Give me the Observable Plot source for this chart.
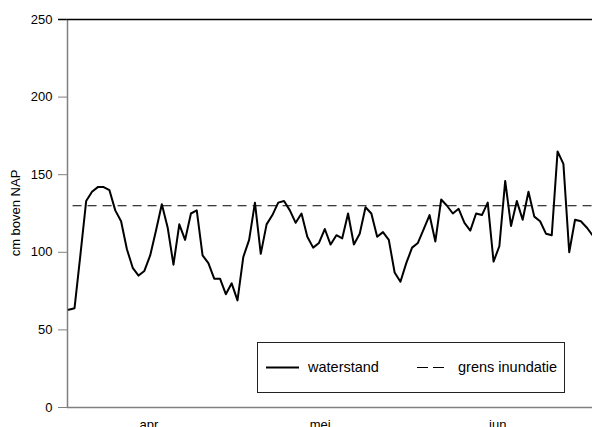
<!DOCTYPE html>
<html><head><meta charset="utf-8">
<script src="https://cdn.jsdelivr.net/npm/d3@7"></script>
<script src="https://cdn.jsdelivr.net/npm/@observablehq/plot@0.6"></script>
<style>
body{margin:0;background:#fff;font-family:"Liberation Sans",Arial,sans-serif;}
#wrap{position:relative;width:592px;height:427px;overflow:hidden;background:#fff;}
#ylab{position:absolute;left:15px;top:213px;transform:translate(-50%,-50%) rotate(-90deg);white-space:nowrap;font-size:13px;color:#000;}
#legend{position:absolute;left:257px;top:342px;width:308px;height:51px;box-sizing:border-box;border:1px solid #222;background:#fff;}
.ltext{position:absolute;top:15px;font-size:14.5px;line-height:18px;color:#000;white-space:nowrap;}
.lsvg{position:absolute;top:0;left:0;}
</style></head><body><div id="wrap"></div>
<script>
const waterstand = [63,64,98,133,139,142,142,140,127,120,102,90,85,88,98,114,131,116,92,118,108,125,127,98,93,83,83,73,80,69,97,108,132,99,118,124,132,133,127,119,125,110,103,106,115,105,111,109,125,105,112,129,125,110,113,108,87,81,93,103,106,115,124,107,134,130,125,128,119,114,125,124,132,94,104,146,117,133,121,139,123,120,112,111,165,157,100,121,120,116,111];
const grens = 130;
const startDate = "2001-04-01";
const monthLabels = ["apr","mei","jun"];
const monthTickDates = ["2001-04-14T19:00Z","2001-05-14T05:00Z","2001-06-13T17:00Z"];
const yTicks = [0,50,100,150,200,250];
const yLabel = "cm boven NAP";
const seriesNames = ["waterstand","grens inundatie"];

const start = new Date(startDate);
const data = waterstand.map((v,i)=>({date:d3.utcDay.offset(start,i), value:v}));
const end = data[data.length-1].date;
const domStart = d3.utcHour.offset(start,-5);
const tickDates = monthTickDates.map(s=>new Date(s));
const labelMap = new Map(tickDates.map((d,i)=>[+d, monthLabels[i]]));

const chart = Plot.plot({
  width:592, height:427,
  marginLeft:67, marginRight:0, marginTop:19, marginBottom:20,
  style:{fontFamily:'"Liberation Sans",Arial,sans-serif', fontSize:"13px", color:"black", background:"white", overflow:"visible"},
  x:{type:"utc", domain:[domStart,end]},
  y:{domain:[0,250]},
  marks:[
    Plot.axisY({ticks:yTicks, tickSize:9, tickPadding:6, stroke:"#808080", fill:"black", label:null, tickFormat:d=>String(d)}),
    Plot.axisY({ticks:[250], tickSize:9, tickPadding:6, stroke:"black", strokeWidth:1.5, fill:"black", label:null, tickFormat:()=>""}),
    Plot.axisX({ticks:tickDates, tickSize:0, tickPadding:12, fill:"black", label:null, tickFormat:d=>labelMap.get(+d)}),
    Plot.ruleX([domStart],{stroke:"#808080", strokeWidth:1.5}),
    Plot.ruleY([0],{stroke:"#808080", strokeWidth:1.5}),
    Plot.ruleY([250],{stroke:"black", strokeWidth:1.5}),
    Plot.ruleY([grens],{x1:d3.utcHour.offset(start,18), x2:end, stroke:"black", strokeWidth:1, strokeDasharray:"9,6"}),
    Plot.line(data,{x:"date", y:"value", stroke:"black", strokeWidth:2})
  ]
});
const wrap = document.getElementById("wrap");
wrap.appendChild(chart);

const yl = document.createElement("div");
yl.id="ylab"; yl.textContent = yLabel; wrap.appendChild(yl);

const lg = document.createElement("div");
lg.id = "legend";
lg.innerHTML = `<svg class="lsvg" width="306" height="49">
<line x1="8" x2="41" y1="24.5" y2="24.5" stroke="black" stroke-width="2"/>
<line x1="159" x2="186" y1="24.5" y2="24.5" stroke="black" stroke-width="1" stroke-dasharray="11,5"/>
</svg>
<div class="ltext" style="left:50px">${seriesNames[0]}</div>
<div class="ltext" style="left:200px">${seriesNames[1]}</div>`;
wrap.appendChild(lg);
</script>
</body></html>
